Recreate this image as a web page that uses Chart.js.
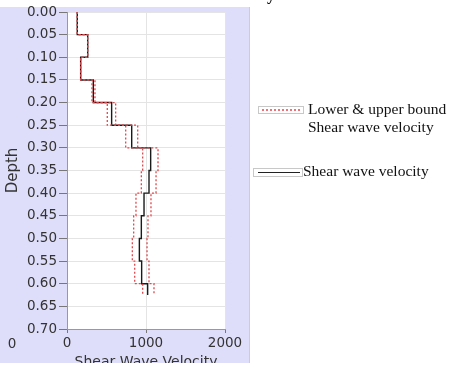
<!DOCTYPE html>
<html>
<head>
<meta charset="utf-8">
<script src="https://cdn.jsdelivr.net/npm/chart.js@4"></script>
<style>
  html, body { margin: 0; padding: 0; background: #fff; overflow: hidden; }
  #wrap { width: 450px; height: 367px; position: relative; }
</style>
</head>
<body>
<div id="wrap"><canvas id="c" width="450" height="367"></canvas></div>
<script>
// Layer tops (depth) and the base of the profile
const layerTops = [0, 0.05, 0.10, 0.15, 0.20, 0.25, 0.30, 0.35, 0.40, 0.45, 0.50, 0.55, 0.60];
const profileBase = 0.625;

// Shear wave velocity per layer, with its lower and upper bound
const shearVelocity = [130, 262, 173, 333, 565, 819, 1059, 1038, 975, 941, 916, 945, 1021];
const lowerBound    = [130, 262, 173, 316, 510, 743,  958,  941, 873, 844, 827, 857,  958];
const upperBound    = [130, 262, 173, 354, 616, 895, 1152, 1127, 1063, 1025, 1013, 1038, 1101];

// Axis ticks
const depthTicks = [0, 0.05, 0.10, 0.15, 0.20, 0.25, 0.30, 0.35, 0.40, 0.45, 0.50, 0.55, 0.60, 0.65, 0.70];
const velocityTicks = [0, 1000, 2000];

// Legend texts
const legendBound = ['Lower & upper bound', 'Shear wave velocity'];
const legendVs = 'Shear wave velocity';

// Turn layer values into a stepped (velocity, depth) profile
function stepProfile(values) {
  const pts = [];
  values.forEach((v, i) => {
    const top = layerTops[i];
    const bottom = i + 1 < layerTops.length ? layerTops[i + 1] : profileBase;
    pts.push({ x: v, y: top });
    pts.push({ x: v, y: bottom });
  });
  return pts;
}

const LAVENDER = '#dedefa';
const TICK_FONT = { family: 'DejaVu Sans', size: 13.5 };

const framePlugin = {
  id: 'frame',
  beforeDraw(chart) {
    const { ctx, chartArea: a } = chart;
    ctx.save();
    ctx.fillStyle = '#ffffff';
    ctx.fillRect(0, 0, chart.width, chart.height);
    ctx.fillStyle = LAVENDER;
    ctx.fillRect(0, 7, 249, 356);
    ctx.fillStyle = '#c9c9ec';
    ctx.fillRect(249, 7, 1, 356);
    ctx.fillStyle = '#ffffff';
    ctx.fillRect(a.left, a.top, a.right - a.left, a.bottom - a.top);
    ctx.restore();
  },
  afterDraw(chart) {
    const { ctx } = chart;
    ctx.save();
    // stray origin label at the far left of the velocity axis
    ctx.fillStyle = '#333';
    ctx.font = '13.5px "DejaVu Sans"';
    ctx.textAlign = 'center';
    ctx.textBaseline = 'middle';
    ctx.fillText('0', 12, 344);

    // heading, mostly above the top edge
    ctx.fillStyle = '#000';
    ctx.font = 'bold 16px "Liberation Serif"';
    ctx.textAlign = 'right';
    ctx.textBaseline = 'alphabetic';
    ctx.fillText('Shear Wave Velocity', 275, 0);

    // legend
    ctx.font = '15.5px "Liberation Serif"';
    ctx.textAlign = 'left';
    ctx.textBaseline = 'middle';
    // bound entry
    ctx.strokeStyle = '#c8c8c8';
    ctx.lineWidth = 1;
    ctx.strokeRect(258.5, 106.5, 45, 7);
    ctx.strokeStyle = '#e8454a';
    ctx.lineWidth = 1.5;
    ctx.setLineDash([2, 2]);
    ctx.beginPath();
    ctx.moveTo(262, 110);
    ctx.lineTo(300, 110);
    ctx.stroke();
    ctx.setLineDash([]);
    ctx.fillStyle = '#111';
    ctx.fillText(legendBound[0], 308, 110);
    ctx.fillText(legendBound[1], 308, 128);
    // velocity entry
    ctx.strokeStyle = '#c8c8c8';
    ctx.lineWidth = 1;
    ctx.strokeRect(253.5, 168.5, 49, 8);
    ctx.strokeStyle = '#222';
    ctx.lineWidth = 1;
    ctx.beginPath();
    ctx.moveTo(258, 172.5);
    ctx.lineTo(300, 172.5);
    ctx.stroke();
    ctx.fillText(legendVs, 303, 172);

    // bottom edge strip
    ctx.fillStyle = '#ffffff';
    ctx.fillRect(0, 363, chart.width, 4);
    ctx.restore();
  }
};

const boundStyle = {
  borderColor: '#e0484c',
  borderWidth: 1.3,
  borderDash: [2, 2],
  pointRadius: 0,
  fill: false,
  tension: 0
};

new Chart(document.getElementById('c'), {
  type: 'line',
  data: {
    datasets: [
      Object.assign({ label: 'Lower bound', data: stepProfile(lowerBound) }, boundStyle),
      Object.assign({ label: 'Upper bound', data: stepProfile(upperBound) }, boundStyle),
      {
        label: 'Shear wave velocity',
        data: stepProfile(shearVelocity),
        borderColor: '#1a1a1a',
        borderWidth: 1.4,
        pointRadius: 0,
        fill: false,
        tension: 0
      }
    ]
  },
  options: {
    responsive: false,
    animation: false,
    layout: { padding: { left: 0, top: 12, right: 225, bottom: 0 } },
    plugins: { legend: { display: false }, tooltip: { enabled: false } },
    scales: {
      x: {
        type: 'linear',
        position: 'bottom',
        min: 0,
        max: 2000,
        afterBuildTicks(scale) { scale.ticks = velocityTicks.map(v => ({ value: v })); },
        afterFit(scale) { scale.height = 38; },
        ticks: { color: '#333', font: TICK_FONT, padding: 2, maxRotation: 0, callback: v => String(v) },
        grid: { color: '#e4e4e4', tickColor: '#777', tickLength: 4, drawOnChartArea: true },
        border: { color: '#999' },
        title: {
          display: true,
          text: 'Shear Wave Velocity',
          color: '#333',
          font: { family: 'DejaVu Sans', size: 14 },
          padding: { top: 0, bottom: -4 }
        }
      },
      y: {
        type: 'linear',
        reverse: true,
        min: 0,
        max: 0.7,
        afterBuildTicks(scale) { scale.ticks = depthTicks.map(v => ({ value: v })); },
        afterFit(scale) { scale.width = 67; },
        ticks: { color: '#333', font: TICK_FONT, padding: 2, callback: v => Number(v).toFixed(2) },
        grid: { color: '#e4e4e4', tickColor: '#777', tickLength: 8 },
        border: { color: '#999' },
        title: {
          display: true,
          text: 'Depth',
          color: '#333',
          font: { family: 'DejaVu Sans', size: 15 },
          padding: { top: 4, bottom: 0 }
        }
      }
    }
  },
  plugins: [framePlugin]
});
</script>
</body>
</html>
